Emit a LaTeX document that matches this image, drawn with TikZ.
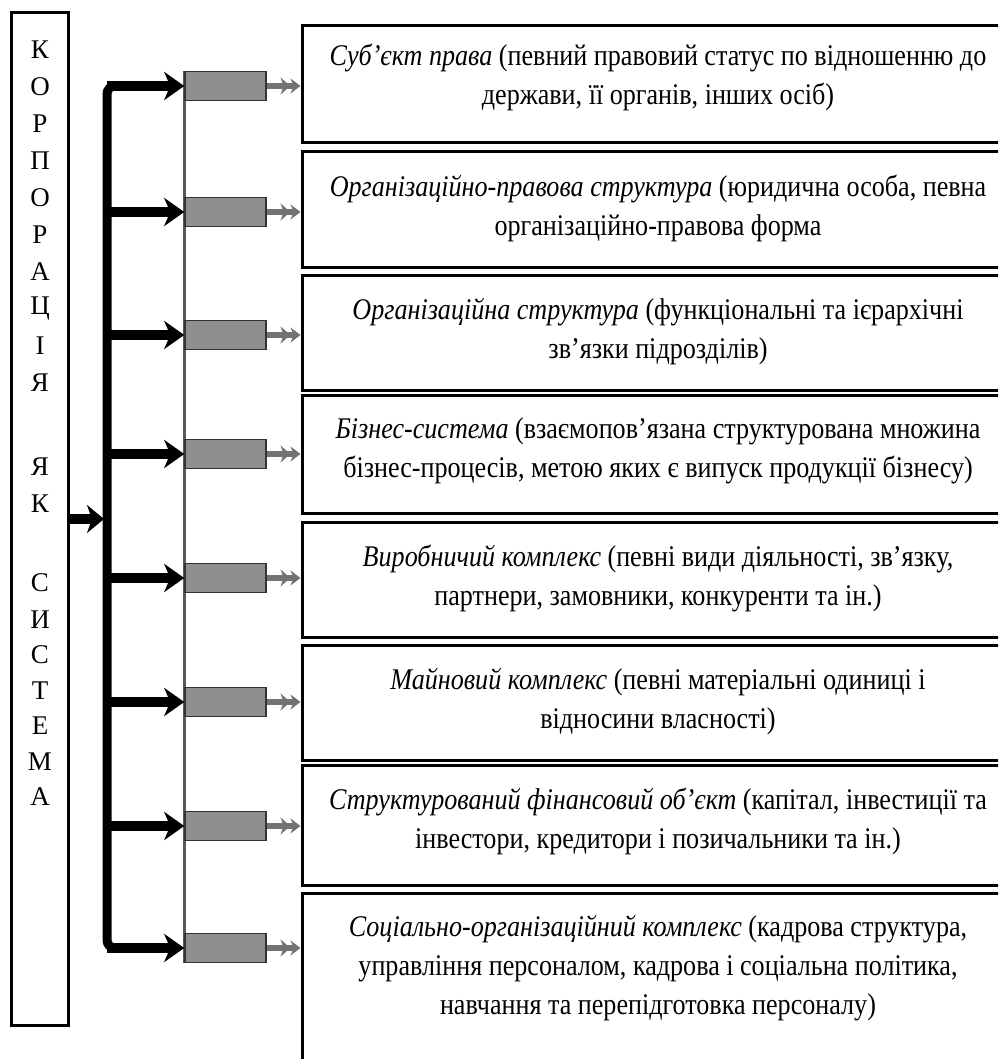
\documentclass[tikz,border=0pt]{standalone}
\usepackage{fontspec}
\setmainfont{Liberation Serif}
\newfontfamily\boxfont{Liberation Serif}[FakeStretch=0.87]
\usetikzlibrary{arrows.meta}
\begin{document}
\begin{tikzpicture}[x=1pt,y=-1pt,
  frame/.style={draw=black, line width=3pt, inner sep=0pt},
  caption/.style={font=\boxfont\fontsize{30}{39}\selectfont, align=center, inner sep=0pt},
  letter/.style={font=\fontsize{27}{27}\selectfont, inner sep=0pt},
  graybox/.style={draw=black!80, line width=1.5pt, fill=black!44, minimum width=81pt, minimum height=29pt, inner sep=0pt},
  feeder/.style={line width=10pt, -{Stealth[length=20pt,width=28pt,inset=6pt]}},
  outlet/.style={draw=black!55, line width=6pt, -{Stealth[length=10pt,width=17pt]Stealth[length=10pt,width=15pt]}},
  rail/.style={draw=black!65, line width=3pt},
  spine/.style={line width=9pt, rounded corners=8pt},
]
\useasboundingbox (0,0) rectangle (998,1059);
\clip (0,0) rectangle (998,1059);

% left frame with the vertical title
\node[frame, minimum width=57pt, minimum height=1012pt] (corp) at (39.5,519) {};
\foreach \ch/\yy [count=\k] in {К/50, О/87, Р/124, П/161, О/198, Р/235, А/272, Ц/309, І/346, Я/383,
    Я/467, К/504, С/583, И/620, С/655, Т/691, Е/726, М/762, А/797}
  \node[letter] (l\k) at (40,\yy) {\ch};

% right-hand boxes
\foreach \n/\top/\bot in {1/26/143, 2/152/267, 3/275/390, 4/395/513, 5/522/637, 6/645/760, 7/765/885, 8/893/1075}
  \node[frame, minimum width=712pt, minimum height={(\bot-\top)*1pt}] (b\n) at (658,{(\top+\bot)/2}) {};

\node[caption] (t1) at (658,77) {\textit{Суб’єкт права} (певний правовий статус по відношенню до\\держави, її органів, інших осіб)};
\node[caption] (t2) at (658,208.5) {\textit{Організаційно-правова структура} (юридична особа, певна\\організаційно-правова форма};
\node[caption] (t3) at (658,332) {\textit{Організаційна структура} (функціональні та ієрархічні\\зв’язки підрозділів)};
\node[caption] (t4) at (658,451) {\textit{Бізнес-система} (взаємопов’язана структурована множина\\бізнес-процесів, метою яких є випуск продукції бізнесу)};
\node[caption] (t5) at (658,578) {\textit{Виробничий комплекс} (певні види діяльності, зв’язку,\\партнери, замовники, конкуренти та ін.)};
\node[caption] (t6) at (658,702) {\textit{Майновий комплекс} (певні матеріальні одиниці і\\відносини власності)};
\node[caption] (t7) at (658,821) {\textit{Структурований фінансовий об’єкт} (капітал, інвестиції та\\інвестори, кредитори і позичальники та ін.)};
\node[caption] (t8) at (658,968) {\textit{Соціально-організаційний комплекс} (кадрова структура,\\управління персоналом, кадрова і соціальна політика,\\навчання та перепідготовка персоналу)};

% gray distributor boxes
\foreach \n/\yy in {1/86, 2/212, 3/335, 4/454, 5/578, 6/702, 7/826, 8/948} {
  \node[graybox] (g\n) at (225.5,\yy) {};
  \coordinate (s\n) at (107,\yy);
}
\draw[rail] (g1.north west) -- (g8.south west);
\foreach \n in {1,...,8} {
  \node[graybox] at (g\n) {};
  \draw[outlet] (g\n.east) -- (b\n.west |- g\n.east);
}

% black spine and feeders
\draw[spine] ([xshift=30pt]s1) -- (s1) -- (s8) -- ([xshift=30pt]s8);
\foreach \n in {1,...,8}
  \draw[feeder] (s\n) -- (g\n.west);
\coordinate (sin) at (104,519);
\draw[line width=10pt, -{Stealth[length=17pt,width=28pt,inset=5pt]}] (corp.east) -- (sin);
\end{tikzpicture}
\end{document}
